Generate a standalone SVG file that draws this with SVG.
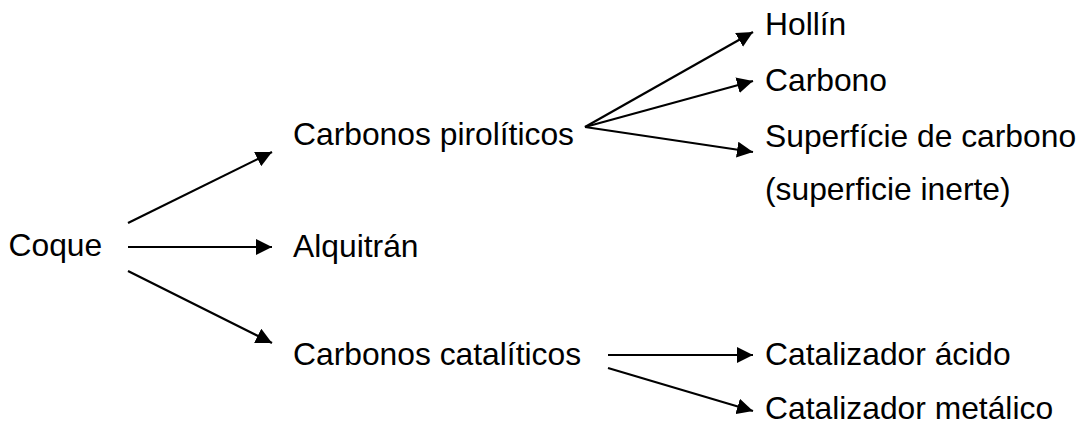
<svg xmlns="http://www.w3.org/2000/svg" width="1081" height="425" viewBox="0 0 1081 425">
<style>
text{font-family:"Liberation Sans",Arial,sans-serif;font-size:31.8px;fill:#000}
.c line{stroke:#000;stroke-width:2.2;marker-end:url(#ah)}
</style>
<defs>
<marker id="ah" markerUnits="userSpaceOnUse" markerWidth="17" markerHeight="16" refX="16" refY="8" orient="auto"><path d="M0,0 L16,8 L0,16 z" fill="#000"/></marker>
</defs>
<rect width="1081" height="425" fill="#fff"/>
<g class="c" id="connectors">
<line x1="128" y1="223" x2="272" y2="152"/>
<line x1="128" y1="247" x2="272" y2="247"/>
<line x1="128" y1="271" x2="272" y2="343"/>
<line x1="585" y1="127" x2="753" y2="32"/>
<line x1="585" y1="127" x2="753" y2="81"/>
<line x1="585" y1="127" x2="753" y2="152"/>
<line x1="608" y1="355" x2="753" y2="355"/>
<line x1="608" y1="368" x2="753" y2="411"/>
</g>
<g id="coque"><text x="8.5" y="256">Coque</text></g>
<g id="pirol"><text x="293" y="145">Carbonos pirolíticos</text></g>
<g id="alq"><text x="293" y="257">Alquitrán</text></g>
<g id="catal"><text x="293" y="365">Carbonos catalíticos</text></g>
<g id="hollin"><text x="765" y="35">Hollín</text></g>
<g id="carbono"><text x="765" y="91">Carbono</text></g>
<g id="superficie"><text x="765" y="147">Superfície de carbono</text><text x="765" y="200">(superficie inerte)</text></g>
<g id="acido"><text x="765" y="365">Catalizador ácido</text></g>
<g id="metalico"><text x="765" y="419">Catalizador metálico</text></g>
</svg>
